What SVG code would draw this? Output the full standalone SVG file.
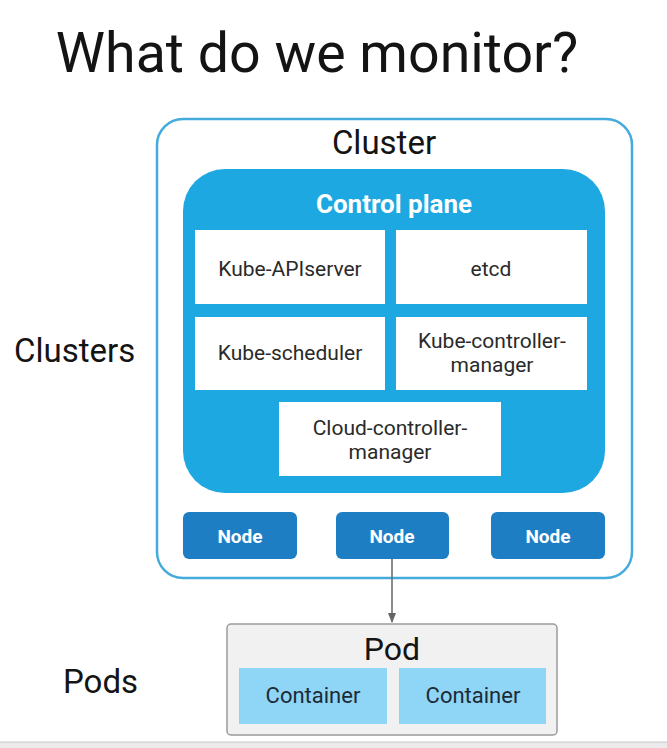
<svg xmlns="http://www.w3.org/2000/svg" width="667" height="748" viewBox="0 0 667 748">
<defs>
<style>
text{font-family:Roboto,"Liberation Sans",sans-serif;}
.dark{fill:#141414;}
.box{fill:#ffffff;}
.in{font-size:21px;text-anchor:middle;fill:#2a2a2a;}
.node{fill:#1e7ec4;}
.nt{font-size:19px;font-weight:bold;fill:#ffffff;text-anchor:middle;}
.cont{fill:#8fd5f5;}
.ct{font-size:22px;text-anchor:middle;fill:#1c2b36;}
.cp{font-size:26px;font-weight:bold;fill:#ffffff;text-anchor:middle;}
</style>
<marker id="arr" viewBox="0 0 10 10" refX="9" refY="5" markerWidth="7" markerHeight="7" orient="auto">
<path d="M0,1 L10,5 L0,9 z" fill="#666666"/>
</marker>
</defs>
<rect width="667" height="748" fill="#ffffff"/>
<text class="dark" x="317" y="72" font-size="55.5" text-anchor="middle">What do we monitor?</text>
<text class="dark" x="14" y="362" font-size="33">Clusters</text>
<text class="dark" x="63" y="693" font-size="33">Pods</text>

<g id="cluster">
<rect x="157" y="119" width="475" height="459" rx="26" fill="#ffffff" stroke="#45abdd" stroke-width="2.5"/>
<text class="dark" x="384" y="154" font-size="33" text-anchor="middle">Cluster</text>
</g>
<g id="control-plane">
<rect x="183" y="169" width="422" height="324" rx="42" fill="#1ea8e2"/>
<text class="cp" x="394" y="213">Control plane</text>
</g>
<g id="kube-apiserver">
<rect class="box" x="195" y="230" width="190" height="74"/>
<text class="in" x="290" y="276">Kube-APIserver</text>
</g>
<g id="etcd">
<rect class="box" x="396" y="230" width="191" height="74"/>
<text class="in" x="491" y="276">etcd</text>
</g>
<g id="kube-scheduler">
<rect class="box" x="195" y="317" width="190" height="73"/>
<text class="in" x="290" y="360">Kube-scheduler</text>
</g>
<g id="kube-controller-manager">
<rect class="box" x="396" y="317" width="191" height="73"/>
<text class="in" x="492" y="348">Kube-controller-</text>
<text class="in" x="492" y="372">manager</text>
</g>
<g id="cloud-controller-manager">
<rect class="box" x="279" y="402" width="222" height="74"/>
<text class="in" x="390" y="435">Cloud-controller-</text>
<text class="in" x="390" y="459">manager</text>
</g>
<g id="node1">
<rect class="node" x="183" y="512" width="114" height="47" rx="6"/>
<text class="nt" x="240" y="543">Node</text>
</g>
<g id="node2">
<rect class="node" x="336" y="512" width="113" height="47" rx="6"/>
<text class="nt" x="392" y="543">Node</text>
</g>
<g id="node3">
<rect class="node" x="491" y="512" width="114" height="47" rx="6"/>
<text class="nt" x="548" y="543">Node</text>
</g>
<g id="connectors">
<line x1="392" y1="559" x2="392" y2="622" stroke="#666666" stroke-width="1.5" marker-end="url(#arr)"/>
</g>
<g id="pod">
<rect x="227" y="624" width="330" height="111" rx="4" fill="#f1f1f1" stroke="#9a9a9a" stroke-width="1.5"/>
<text class="dark" x="392" y="660" font-size="32" text-anchor="middle">Pod</text>
</g>
<g id="container1">
<rect class="cont" x="239" y="668" width="148" height="56"/>
<text class="ct" x="313" y="703">Container</text>
</g>
<g id="container2">
<rect class="cont" x="399" y="668" width="147" height="56"/>
<text class="ct" x="473" y="703">Container</text>
</g>
<rect x="0" y="742" width="667" height="6" fill="#ebebeb"/>
<line x1="0" y1="742" x2="667" y2="742" stroke="#c8c8c8" stroke-width="1"/>
</svg>
